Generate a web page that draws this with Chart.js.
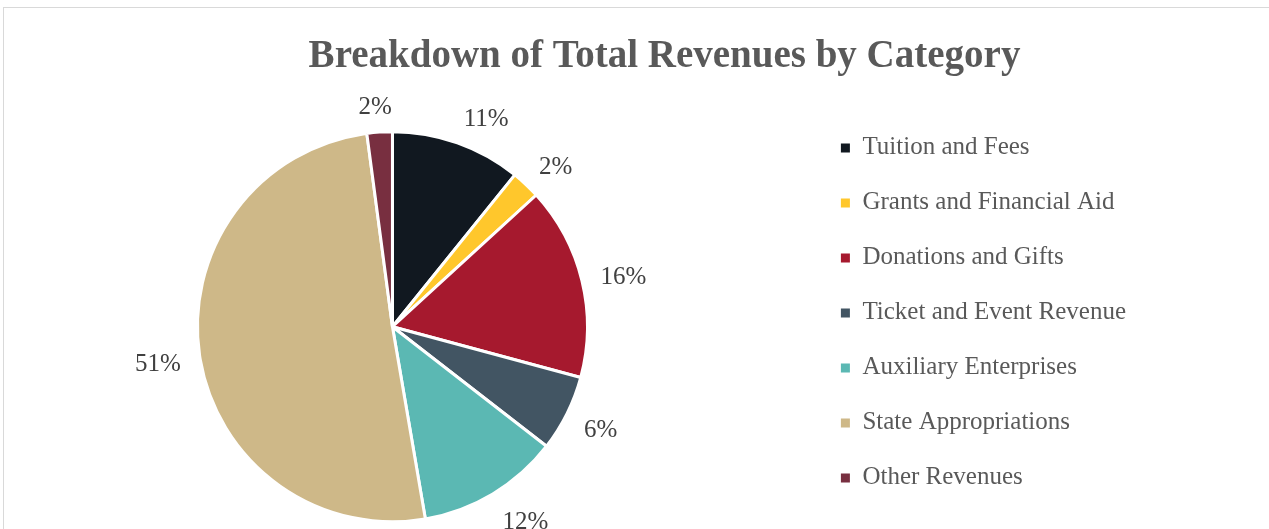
<!DOCTYPE html>
<html>
<head>
<meta charset="utf-8">
<script src="https://cdn.jsdelivr.net/npm/chart.js@4.4.1/dist/chart.umd.min.js"></script>
<style>
  html, body { margin: 0; padding: 0; background: #fff; overflow: hidden; }
  #frame { position: absolute; left: 3px; top: 7px; width: 1400px; height: 600px; border: 1px solid #d9d9d9; }
  /* canvas runs a little past the left and bottom edges so the pie sits where the original does */
  #revenue { position: absolute; left: -26px; top: 0; }
</style>
</head>
<body>
<div id="frame"></div>
<canvas id="revenue" width="1295" height="548"></canvas>
<script>
// revenue share by category, in percent
const categories = [
    'Tuition and Fees',
    'Grants and Financial Aid',
    'Donations and Gifts',
    'Ticket and Event Revenue',
    'Auxiliary Enterprises',
    'State Appropriations',
    'Other Revenues'
];
const shares = [10.8, 2.4, 16.0, 6.3, 11.8, 50.6, 2.1];
const sliceColors = ['#111820', '#FFC72C', '#A6192E', '#425563', '#5BB8B3', '#CEB888', '#782F40'];

const serif = "'Liberation Serif', 'Times New Roman', serif";

// percent labels just outside each slice, box pushed off the edge like Excel's "outside end"
const outsideLabels = {
    id: 'outsideLabels',
    afterDatasetsDraw(chart) {
        const ctx = chart.ctx;
        const meta = chart.getDatasetMeta(0);
        const total = shares.reduce((a, b) => a + b, 0);
        ctx.save();
        ctx.font = '25px ' + serif;
        ctx.fillStyle = '#404040';
        ctx.textAlign = 'center';
        ctx.textBaseline = 'middle';
        meta.data.forEach(function (arc, i) {
            const p = arc.getProps(['x', 'y', 'startAngle', 'endAngle', 'outerRadius'], true);
            const mid = (p.startAngle + p.endAngle) / 2;
            const dx = Math.cos(mid), dy = Math.sin(mid);
            const text = Math.round(shares[i] / total * 100) + '%';
            const w = ctx.measureText(text).width;
            const d = p.outerRadius + 19;
            const sx = Math.sign(dx) * Math.min(1, Math.abs(dx) * 3) * w / 2;
            const sy = dy * 10 + 4; // +4: 'middle' sits a bit above the digit centre
            ctx.fillText(text, p.x + dx * d + sx, p.y + dy * d + sy);
        });
        ctx.restore();
    }
};

// the original chart frame runs past the right edge, title is centred on it
const titleOnFrame = {
    id: 'titleOnFrame',
    afterLayout(chart) {
        const t = chart.titleBlock;
        t.left = 0;
        t.right = 1381;
    }
};

document.addEventListener('DOMContentLoaded', function () {
    const baseLabels = Chart.overrides.doughnut.plugins.legend.labels.generateLabels;
    const ctx = document.getElementById('revenue').getContext('2d');
    new Chart(ctx, {
        type: 'pie',
        data: {
            labels: categories,
            datasets: [{
                data: shares,
                backgroundColor: sliceColors,
                borderColor: '#ffffff',
                borderWidth: 3,
                radius: 195
            }]
        },
        options: {
            responsive: false,
            animation: false,
            layout: {
                padding: { top: 0, left: 0, right: 133, bottom: 0 }
            },
            plugins: {
                title: {
                    display: true,
                    text: 'Breakdown of Total Revenues by Category',
                    color: '#595959',
                    font: { family: serif, size: 39, weight: 'bold', lineHeight: 1.2 },
                    padding: { top: 33.4, bottom: 25.2 }
                },
                legend: {
                    display: true,
                    position: 'right',
                    align: 'start',
                    fullSize: false,
                    labels: {
                        color: '#595959',
                        font: { family: serif, size: 25 },
                        boxWidth: 9,
                        boxHeight: 9,
                        padding: 30,
                        generateLabels(chart) {
                            const items = baseLabels(chart);
                            items.forEach(function (it) { it.lineWidth = 0; });
                            return items;
                        }
                    }
                },
                tooltip: { enabled: false }
            }
        },
        plugins: [outsideLabels, titleOnFrame]
    });
});
</script>
</body>
</html>
